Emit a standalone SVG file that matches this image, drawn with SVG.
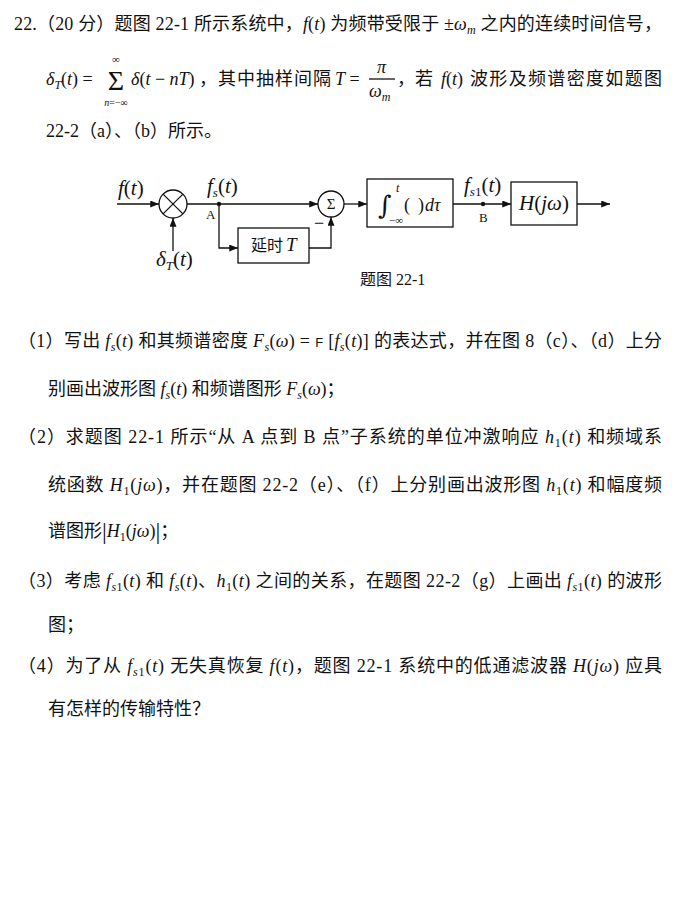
<svg xmlns="http://www.w3.org/2000/svg" width="679" height="902" viewBox="0 0 679 902">
<style>
.t{font-family:"Liberation Serif","Noto Sans CJK SC",serif;font-size:18px;fill:#111}
.i{font-style:italic}
.ln{stroke:#111;stroke-width:1.3;fill:none}
.box{stroke:#111;stroke-width:1.3;fill:#fff}
.lab{font-family:"Liberation Serif","Noto Sans CJK SC",serif;font-size:21px;fill:#111}
.sm{font-family:"Liberation Serif",serif;font-size:13px;fill:#111}
</style>
<defs>
<marker id="ar" viewBox="0 0 10 8" refX="10" refY="4" markerWidth="9" markerHeight="7" markerUnits="userSpaceOnUse" orient="auto">
<path d="M0,0 L10,4 L0,8 Z" fill="#111"/>
</marker>
</defs>
<rect width="679" height="902" fill="#fff"/>

<!-- problem statement -->
<text class="t" x="14" y="30" textLength="648" lengthAdjust="spacing">22.（20 分）题图 22-1 所示系统中，<tspan class="i">f</tspan>(<tspan class="i">t</tspan>) 为频带受限于 ±<tspan class="i">ω</tspan><tspan class="i" font-size="12" dy="4">m</tspan><tspan dy="-4"> 之内的连续时间信号，</tspan></text>

<g id="formula">
<text class="t" x="46" y="85"><tspan class="i">δ</tspan><tspan class="i" font-size="12" dy="4">T</tspan><tspan dy="-4">(</tspan><tspan class="i">t</tspan>) =</text>
<text class="t" x="116" y="90" style="font-size:28px" text-anchor="middle">Σ</text>
<text class="t" x="116" y="63" style="font-size:11px" text-anchor="middle">∞</text>
<text class="t" x="116" y="106" style="font-size:10px" text-anchor="middle"><tspan class="i">n</tspan>=−∞</text>
<text class="t" x="131" y="85"><tspan class="i">δ</tspan>(<tspan class="i">t</tspan> − <tspan class="i">nT</tspan>)</text>
<text class="t" x="199" y="85" textLength="132" lengthAdjust="spacing">，其中抽样间隔</text>
<text class="t" x="335" y="85"><tspan class="i">T</tspan> =</text>
<text class="t i" x="377" y="73">π</text>
<line class="ln" x1="369" y1="79" x2="395" y2="79" stroke-width="1"/>
<text class="t" x="369" y="97"><tspan class="i">ω</tspan><tspan class="i" font-size="12" dy="4">m</tspan></text>
<text class="t" x="397" y="85">，若</text>
<text class="t" x="441" y="85"><tspan class="i">f</tspan>(<tspan class="i">t</tspan>)</text>
<text class="t" x="470" y="85" textLength="192" lengthAdjust="spacing">波形及频谱密度如题图</text>
</g>
<text class="t" x="46" y="137">22-2（a）、（b）所示。</text>

<!-- block diagram -->
<g id="connectors">
<line class="ln" x1="117" y1="204" x2="159" y2="204" marker-end="url(#ar)"/>
<line class="ln" x1="173" y1="251" x2="173" y2="218" marker-end="url(#ar)"/>
<line class="ln" x1="187" y1="204" x2="318" y2="204" marker-end="url(#ar)"/>
<polyline class="ln" points="219,204 219,248 238,248" marker-end="url(#ar)"/>
<polyline class="ln" points="309,248 331,248 331,217" marker-end="url(#ar)"/>
<line class="ln" x1="344" y1="204" x2="367" y2="204" marker-end="url(#ar)"/>
<line class="ln" x1="453" y1="204" x2="511" y2="204" marker-end="url(#ar)"/>
<line class="ln" x1="577" y1="204" x2="610" y2="204" marker-end="url(#ar)"/>
<circle cx="219" cy="204" r="2.2" fill="#111"/>
<circle cx="483" cy="204" r="2.2" fill="#111"/>
</g>

<g id="multiplier">
<circle class="box" cx="173" cy="204" r="14"/>
<line class="ln" x1="163.1" y1="194.1" x2="182.9" y2="213.9"/>
<line class="ln" x1="163.1" y1="213.9" x2="182.9" y2="194.1"/>
</g>
<g id="sum">
<circle class="box" cx="331" cy="204" r="13"/>
<text class="t" x="331" y="209" style="font-size:15px" text-anchor="middle">Σ</text>
</g>
<g id="delay">
<rect class="box" x="238" y="228" width="71" height="35"/>
<text class="t" x="251" y="251" style="font-size:16px">延时<tspan class="i" font-size="19" dx="3">T</tspan></text>
</g>
<g id="integrator">
<rect class="box" x="367" y="179" width="86" height="48"/>
<text x="378" y="214" font-family="DejaVu Serif" font-size="26" fill="#111">∫</text>
<text class="t i" x="396" y="192" style="font-size:12px">t</text>
<text class="t" x="389" y="224" style="font-size:11px">−∞</text>
<text class="t" x="404" y="211">(</text>
<text class="t" x="418" y="211">)</text>
<text class="t i" x="425" y="211">dτ</text>
</g>
<g id="filter">
<rect class="box" x="511" y="182" width="66" height="43"/>
<text class="lab" x="544" y="210" text-anchor="middle"><tspan class="i">H</tspan>(<tspan class="i">jω</tspan>)</text>
</g>

<g id="labels">
<text class="lab" x="118" y="195"><tspan class="i">f</tspan>(<tspan class="i">t</tspan>)</text>
<text class="lab" x="207" y="193"><tspan class="i">f</tspan><tspan class="i" font-size="13" dy="4">s</tspan><tspan dy="-4">(</tspan><tspan class="i">t</tspan>)</text>
<text class="sm" x="206" y="219">A</text>
<text class="lab" x="156" y="266"><tspan class="i">δ</tspan><tspan class="i" font-size="13" dy="4">T</tspan><tspan dy="-4">(</tspan><tspan class="i">t</tspan>)</text>
<text class="t" x="314" y="229">−</text>
<text class="lab" x="464" y="192"><tspan class="i">f</tspan><tspan font-size="13" dy="4"><tspan class="i">s</tspan>1</tspan><tspan dy="-4">(</tspan><tspan class="i">t</tspan>)</text>
<text class="sm" x="479" y="222">B</text>
<text class="t" x="360" y="285" style="font-size:16px">题图 22-1</text>
</g>

<!-- questions -->
<text class="t" x="18" y="347" textLength="644" lengthAdjust="spacing">（1）写出 <tspan class="i">f</tspan><tspan class="i" font-size="12" dy="4">s</tspan><tspan dy="-4">(</tspan><tspan class="i">t</tspan>) 和其频谱密度 <tspan class="i">F</tspan><tspan class="i" font-size="12" dy="4">s</tspan><tspan dy="-4">(</tspan><tspan class="i">ω</tspan>) = <tspan font-family="Liberation Sans" font-size="13">F</tspan> [<tspan class="i">f</tspan><tspan class="i" font-size="12" dy="4">s</tspan><tspan dy="-4">(</tspan><tspan class="i">t</tspan>)] 的表达式，并在图 8（c）、（d）上分</text>
<text class="t" x="48" y="395">别画出波形图 <tspan class="i">f</tspan><tspan class="i" font-size="12" dy="4">s</tspan><tspan dy="-4">(</tspan><tspan class="i">t</tspan>) 和频谱图形 <tspan class="i">F</tspan><tspan class="i" font-size="12" dy="4">s</tspan><tspan dy="-4">(</tspan><tspan class="i">ω</tspan>)；</text>
<text class="t" x="18" y="443" textLength="644" lengthAdjust="spacing">（2）求题图 22-1 所示“从 A 点到 B 点”子系统的单位冲激响应 <tspan class="i">h</tspan><tspan font-size="12" dy="4">1</tspan><tspan dy="-4">(</tspan><tspan class="i">t</tspan>) 和频域系</text>
<text class="t" x="48" y="491" textLength="614" lengthAdjust="spacing">统函数 <tspan class="i">H</tspan><tspan font-size="12" dy="4">1</tspan><tspan dy="-4">(</tspan><tspan class="i">jω</tspan>)，并在题图 22-2（e）、（f）上分别画出波形图 <tspan class="i">h</tspan><tspan font-size="12" dy="4">1</tspan><tspan dy="-4">(</tspan><tspan class="i">t</tspan>) 和幅度频</text>
<text class="t" x="48" y="537">谱图形<tspan font-size="24" dy="2">|</tspan><tspan class="i" dy="-2">H</tspan><tspan font-size="12" dy="4">1</tspan><tspan dy="-4">(</tspan><tspan class="i">jω</tspan>)<tspan font-size="24" dy="2">|</tspan><tspan dy="-2">；</tspan></text>
<text class="t" x="18" y="587" textLength="644" lengthAdjust="spacing">（3）考虑 <tspan class="i">f</tspan><tspan font-size="12" dy="4"><tspan class="i">s</tspan>1</tspan><tspan dy="-4">(</tspan><tspan class="i">t</tspan>) 和 <tspan class="i">f</tspan><tspan class="i" font-size="12" dy="4">s</tspan><tspan dy="-4">(</tspan><tspan class="i">t</tspan>)、<tspan class="i">h</tspan><tspan font-size="12" dy="4">1</tspan><tspan dy="-4">(</tspan><tspan class="i">t</tspan>) 之间的关系，在题图 22-2（g）上画出 <tspan class="i">f</tspan><tspan font-size="12" dy="4"><tspan class="i">s</tspan>1</tspan><tspan dy="-4">(</tspan><tspan class="i">t</tspan>) 的波形</text>
<text class="t" x="48" y="631">图；</text>
<text class="t" x="18" y="672" textLength="644" lengthAdjust="spacing">（4）为了从 <tspan class="i">f</tspan><tspan font-size="12" dy="4"><tspan class="i">s</tspan>1</tspan><tspan dy="-4">(</tspan><tspan class="i">t</tspan>) 无失真恢复 <tspan class="i">f</tspan>(<tspan class="i">t</tspan>)，题图 22-1 系统中的低通滤波器 <tspan class="i">H</tspan>(<tspan class="i">jω</tspan>) 应具</text>
<text class="t" x="48" y="715">有怎样的传输特性？</text>
</svg>
